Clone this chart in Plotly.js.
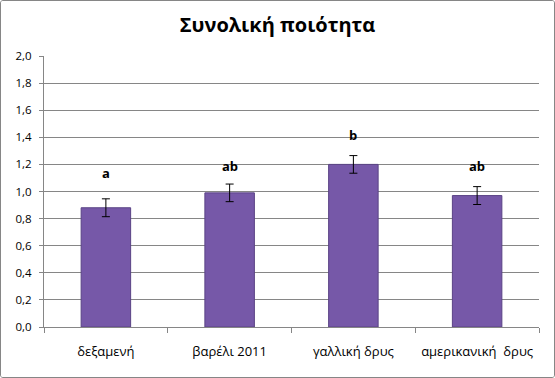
<!DOCTYPE html>
<html>
<head>
<meta charset="utf-8">
<script src="https://cdn.plot.ly/plotly-3.0.1.min.js"></script>
<style>
html,body{margin:0;padding:0;background:#fff;}
#frame{position:absolute;left:0;top:0;width:553px;height:376px;border:1px solid #868686;border-radius:3px;overflow:hidden;}
#chart{width:553px;height:376px;}
</style>
</head>
<body>
<div id="frame"><div id="chart"></div></div>
<script>
const categories = ["δεξαμενή", "βαρέλι 2011", "γαλλική δρυς", "αμερικανική  δρυς"];
const values = [0.88, 0.99, 1.20, 0.97];
const errors = [0.066, 0.065, 0.065, 0.066];
const letters = ["a", "ab", "b", "ab"];
const letterY = [1.135, 1.19, 1.415, 1.19];
const yTicks = [0, 0.2, 0.4, 0.6, 0.8, 1.0, 1.2, 1.4, 1.6, 1.8, 2.0];
const yTickText = yTicks.map(v => v.toFixed(1).replace('.', ','));

const trace = {
  type: 'bar',
  x: categories,
  y: values,
  width: 0.4,
  marker: {color: '#7658a8', line: {color: '#5a4385', width: 1}},
  error_y: {type: 'data', array: errors, visible: true, color: '#000', thickness: 1, width: 4},
  hoverinfo: 'none'
};

const annotations = categories.map((c, i) => ({
  x: c, y: letterY[i], xref: 'x', yref: 'y',
  text: '<b>' + letters[i] + '</b>', showarrow: false,
  font: {family: 'Open Sans, sans-serif', size: 13, color: '#000'}
}));

const layout = {
  width: 553, height: 376,
  margin: {l: 43, r: 15, t: 55, b: 50},
  paper_bgcolor: '#fff', plot_bgcolor: '#fff',
  title: {text: 'Συνολική ποιότητα', x: 0.5, xanchor: 'center', y: 0.935, yanchor: 'middle',
          font: {family: 'Open Sans, sans-serif', size: 20, color: '#000', weight: 'bold'}},
  showlegend: false,
  bargap: 0.6,
  xaxis: {
    type: 'category', tickson: 'boundaries', ticks: 'outside', ticklen: 5, tickcolor: '#868686',
    showline: true, linecolor: '#868686', linewidth: 1, showgrid: false,
    tickfont: {family: 'Open Sans, sans-serif', size: 13, color: '#000'}, ticklabelstandoff: 12
  },
  yaxis: {
    range: [0, 2.0], tickvals: yTicks, ticktext: yTickText,
    ticks: 'outside', ticklen: 4, tickcolor: '#868686',
    showline: true, linecolor: '#868686', linewidth: 1,
    showgrid: true, gridcolor: '#868686', gridwidth: 1, zeroline: false,
    tickfont: {family: 'Open Sans, sans-serif', size: 11.5, color: '#000'}, ticklabelstandoff: 5
  },
  annotations: annotations
};

Plotly.newPlot('chart', [trace], layout, {displayModeBar: false, staticPlot: true});
</script>
</body>
</html>
